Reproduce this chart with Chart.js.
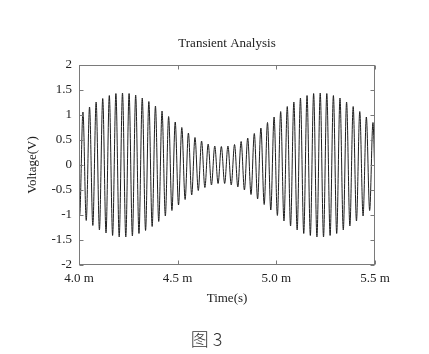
<!DOCTYPE html>
<html>
<head>
<meta charset="utf-8">
<script src="https://cdn.jsdelivr.net/npm/chart.js@4"></script>
<style>
  html, body { margin: 0; padding: 0; background: #fff; }
  #wrap { position: relative; width: 429px; height: 354px; }
  #caption { position: absolute; left: 0; width: 413px; top: 326px; text-align: center;
             font-family: "Noto Sans CJK SC", "Noto Sans", sans-serif; font-size: 18px; font-weight: 300; color: #333; line-height: 24px; }
</style>
</head>
<body>
<div id="wrap">
  <canvas id="c" width="429" height="354"></canvas>
  <div id="caption">图 3</div>
</div>
<script>
const timeMs = [4.0000,
  4.0033,4.0200,4.0367,4.0534,4.0701,4.0868,4.1035,4.1202,4.1369,4.1536,
  4.1703,4.1870,4.2037,4.2204,4.2371,4.2538,4.2705,4.2872,4.3039,4.3206,
  4.3373,4.3540,4.3707,4.3874,4.4041,4.4208,4.4375,4.4542,4.4709,4.4876,
  4.5043,4.5210,4.5377,4.5544,4.5711,4.5878,4.6045,4.6212,4.6379,4.6546,
  4.6713,4.6880,4.7047,4.7214,4.7381,4.7548,4.7715,4.7882,4.8049,4.8216,
  4.8383,4.8550,4.8717,4.8884,4.9051,4.9218,4.9385,4.9552,4.9719,4.9886,
  5.0053,5.0220,5.0387,5.0554,5.0721,5.0888,5.1055,5.1222,5.1389,5.1556,
  5.1723,5.1890,5.2057,5.2224,5.2391,5.2558,5.2725,5.2892,5.3059,5.3226,
  5.3393,5.3560,5.3727,5.3894,5.4061,5.4228,5.4395,5.4562,5.4729,5.4896,
  5.5000];
// Voltage (V) at those instants
const voltage = [-0.82,
  -1.01,1.06,-1.11,1.16,-1.21,1.26,-1.30,1.33,-1.36,1.39,
  -1.41,1.43,-1.44,1.44,-1.44,1.43,-1.42,1.40,-1.37,1.34,
  -1.31,1.27,-1.23,1.18,-1.13,1.08,-1.02,0.97,-0.91,0.86,
  -0.80,0.75,-0.69,0.64,-0.60,0.55,-0.51,0.48,-0.45,0.42,
  -0.40,0.38,-0.37,0.37,-0.37,0.38,-0.40,0.41,-0.44,0.47,
  -0.50,0.54,-0.59,0.63,-0.68,0.74,-0.79,0.85,-0.90,0.96,
  -1.01,1.07,-1.12,1.17,-1.22,1.26,-1.30,1.34,-1.37,1.39,
  -1.41,1.43,-1.44,1.44,-1.44,1.43,-1.41,1.39,-1.37,1.34,
  -1.30,1.26,-1.22,1.17,-1.12,1.07,-1.02,0.96,-0.91,0.85,
  -0.31];
const xTicks = [4.0, 4.5, 5.0, 5.5];
const yTicks = [2, 1.5, 1, 0.5, 0, -0.5, -1, -1.5, -2];
const titleText = 'Transient Analysis';
const xTitle = 'Time(s)';
const yTitle = 'Voltage(V)';

const serif = '"Liberation Serif", "Times New Roman", serif';
const textColor = '#222';
const fs = 13;

const frame = {
  id: 'frame',
  afterDatasetsDraw(chart) {
    const {ctx, chartArea: a, scales: {x, y}} = chart;
    ctx.save();
    ctx.strokeStyle = '#7a7a7a';
    ctx.lineWidth = 1;
    const L = Math.round(a.left) + 0.5, R = Math.round(a.right) - 0.5;
    const T = Math.round(a.top) + 0.5, B = Math.round(a.bottom) - 0.5;
    ctx.strokeRect(L, T, R - L, B - T);
    const tl = 4;
    ctx.beginPath();
    yTicks.forEach(v => {
      const py = Math.round(y.getPixelForValue(v)) + 0.5;
      ctx.moveTo(L, py); ctx.lineTo(L + tl, py);
      ctx.moveTo(R, py); ctx.lineTo(R - tl, py);
    });
    xTicks.forEach(v => {
      const px = Math.round(x.getPixelForValue(v)) + 0.5;
      ctx.moveTo(px, B); ctx.lineTo(px, B - tl);
      ctx.moveTo(px, T); ctx.lineTo(px, T + tl);
    });
    ctx.stroke();
    // title over plot area
    ctx.fillStyle = textColor;
    ctx.font = fs + 'px ' + serif;
    ctx.textAlign = 'center';
    ctx.textBaseline = 'middle';
    ctx.fillText(titleText, (a.left + a.right) / 2, 44);
    ctx.restore();
  }
};

new Chart(document.getElementById('c'), {
  type: 'line',
  data: {
    datasets: [{
      data: timeMs.map((t, i) => ({x: t, y: voltage[i]})),
      borderColor: '#1e1e1e',
      borderWidth: 1,
      pointRadius: 0,
      cubicInterpolationMode: 'monotone',
      fill: false
    }]
  },
  options: {
    responsive: false,
    animation: false,
    devicePixelRatio: 1,
    layout: { padding: { left: 0, right: 54, top: 65, bottom: 44 } },
    plugins: { legend: { display: false }, tooltip: { enabled: false }, title: { display: false } },
    scales: {
      x: {
        type: 'linear', min: 4.0, max: 5.5,
        afterBuildTicks: s => { s.ticks = xTicks.map(v => ({value: v})); },
        afterFit: s => { s.height = 45; },
        grid: { display: false, drawTicks: false },
        border: { display: false },
        ticks: { color: textColor, font: { family: serif, size: fs }, padding: 6, maxRotation: 0, autoSkip: false,
                 callback: v => Number(v).toFixed(1) + ' m' },
        title: { display: true, text: xTitle, color: textColor, font: { family: serif, size: fs }, padding: { top: 0, bottom: 4 } }
      },
      y: {
        type: 'linear', min: -2, max: 2,
        afterBuildTicks: s => { s.ticks = yTicks.map(v => ({value: v})); },
        afterFit: s => { s.width = 79; },
        grid: { display: false, drawTicks: false },
        border: { display: false },
        ticks: { color: textColor, font: { family: serif, size: fs }, padding: 7, autoSkip: false,
                 callback: v => String(v) },
        title: { display: true, text: yTitle, color: textColor, font: { family: serif, size: fs }, padding: { top: 25, bottom: 0 } }
      }
    }
  },
  plugins: [frame]
});
</script>
</body>
</html>
